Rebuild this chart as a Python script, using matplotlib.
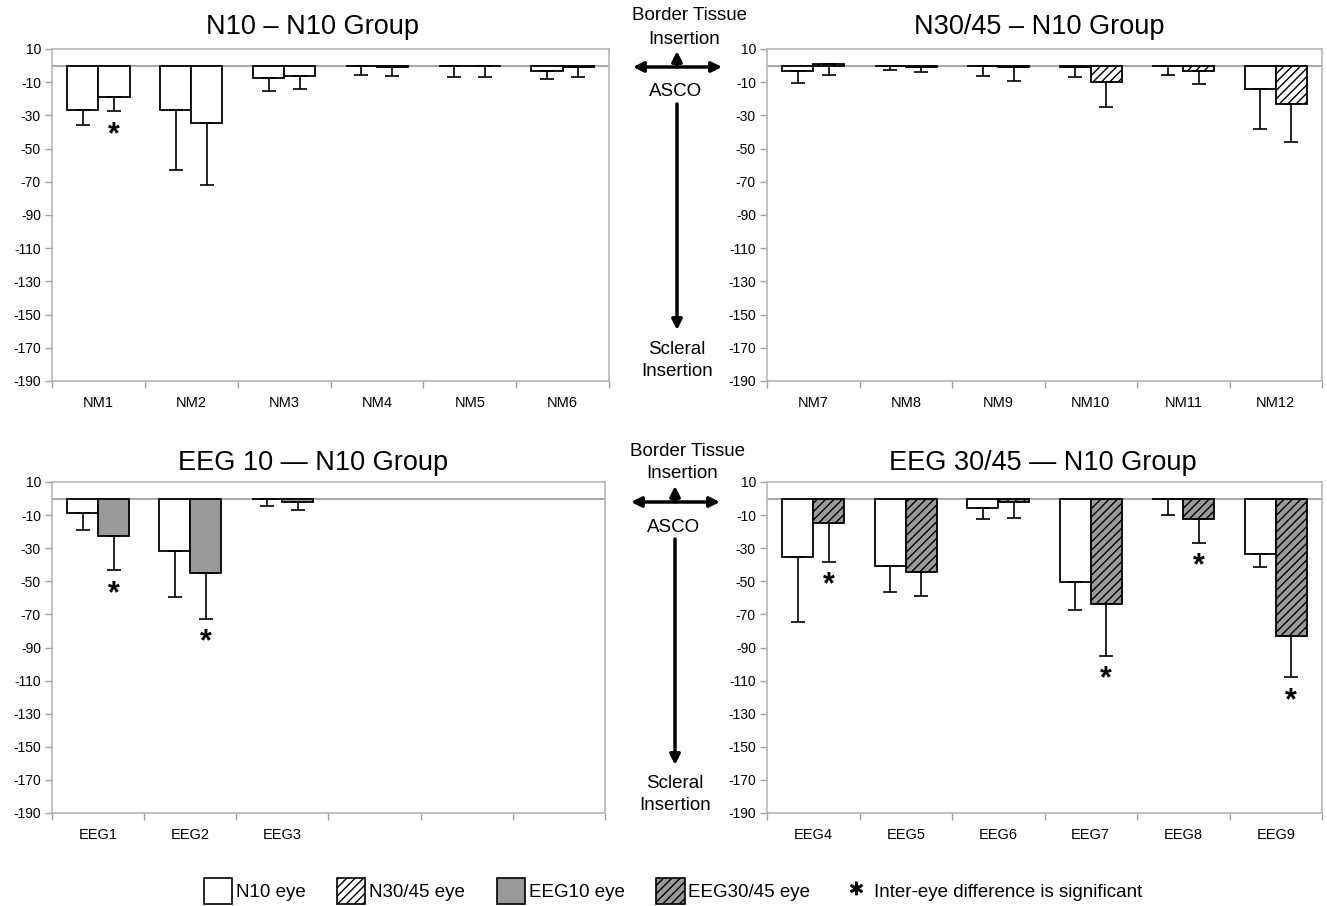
import matplotlib
matplotlib.use("Agg")
import matplotlib.pyplot as plt
from matplotlib.patches import Patch, FancyArrowPatch
from matplotlib.lines import Line2D
import numpy as np

plt.rcParams['font.family'] = ['Liberation Sans', 'DejaVu Sans']
plt.rcParams['hatch.linewidth'] = 1.0

# ---------------- data ----------------
nm_a_labels = ["NM1", "NM2", "NM3", "NM4", "NM5", "NM6"]
n10grp_eye1 = [-27, -27, -7.2, -0.3, -0.5, -3]
n10grp_eye1_sd = [9, 36, 8.2, 5.1, 6.5, 5]
n10grp_eye2 = [-19.2, -34.4, -6, -0.8, -0.5, -1]
n10grp_eye2_sd = [8.4, 37.8, 7.8, 5.4, 6.5, 6]
n10grp_sig = [True, False, False, False, False, False]

nm_b_labels = ["NM7", "NM8", "NM9", "NM10", "NM11", "NM12"]
n30grp_n10 = [-3.3, -0.2, -0.2, -0.7, -0.2, -14.2]
n30grp_n10_sd = [6.9, 2.5, 6.3, 6.3, 5.4, 23.7]
n30grp_n30 = [0.7, -1, -0.7, -9.6, -3.3, -22.9]
n30grp_n30_sd = [6.3, 3, 8.7, 15.6, 7.7, 22.9]
n30grp_sig = [False, False, False, False, False, False]

eeg_a_labels = ["EEG1", "EEG2", "EEG3", "", "", ""]
eeg10grp_n10 = [-8.6, -31.6, -0.3]
eeg10grp_n10_sd = [10.6, 28, 4.2]
eeg10grp_eeg10 = [-22.4, -44.9, -2.2]
eeg10grp_eeg10_sd = [20.9, 27.8, 4.7]
eeg10grp_sig = [True, True, False]

eeg_b_labels = ["EEG4", "EEG5", "EEG6", "EEG7", "EEG8", "EEG9"]
eeg30grp_n10 = [-35.2, -40.6, -5.5, -50.7, -0.3, -33.7]
eeg30grp_n10_sd = [39.1, 16, 6.6, 16.8, 9.6, 7.5]
eeg30grp_eeg30 = [-14.5, -44.6, -2, -63.6, -12.1, -83]
eeg30grp_eeg30_sd = [23.7, 14.2, 9.5, 31.4, 14.8, 25]
eeg30grp_sig = [True, False, False, True, True, True]

yticks = [10, -10, -30, -50, -70, -90, -110, -130, -150, -170, -190]

titles = ["N10 \u2013 N10 Group", "N30/45 \u2013 N10 Group",
          "EEG 10 \u2014 N10 Group", "EEG 30/45 \u2014 N10 Group"]

# ---------------- styles ----------------
W, H = 1327, 906
style_n10 = dict(facecolor='white', edgecolor='black', hatch=None)
style_n30 = dict(facecolor='white', edgecolor='black', hatch='////')
style_eeg10 = dict(facecolor='#999999', edgecolor='black', hatch=None)
style_eeg30 = dict(facecolor='#9a9a9a', edgecolor='black', hatch='////')

fig = plt.figure(figsize=(W / 100, H / 100), dpi=100)


def px_axes(l, t, r, b):
    return fig.add_axes([l / W, 1 - b / H, (r - l) / W, (b - t) / H])


def panel(ax, labels, v1, s1, v2, s2, sig, st1, st2):
    n = len(v1)
    x = np.arange(n)
    bw = 0.335
    ax.axhline(0, color='#a0a0a0', lw=1.3, zorder=1)
    ax.bar(x - bw / 2, v1, width=bw, linewidth=1.3, zorder=2, **st1)
    ax.bar(x + bw / 2, v2, width=bw, linewidth=1.3, zorder=2, **st2)
    ax.errorbar(x - bw / 2, v1, yerr=[s1, np.zeros(n)], fmt='none',
                ecolor='black', elinewidth=1.2, capsize=5, capthick=1.2, zorder=3)
    ax.errorbar(x + bw / 2, v2, yerr=[s2, np.zeros(n)], fmt='none',
                ecolor='black', elinewidth=1.2, capsize=5, capthick=1.2, zorder=3)
    for i in range(n):
        if sig[i]:
            ax.annotate('*', xy=(x[i] + bw / 2, v2[i] - s2[i]), xytext=(0, -17),
                        textcoords='offset points', ha='center', va='center',
                        fontsize=22, fontweight='bold')
    ax.set_xlim(-0.5, 5.5)
    ax.set_ylim(-190, 10)
    ax.set_yticks(yticks)
    ax.set_yticklabels([str(t) for t in yticks], fontsize=10)
    ax.set_xticks(np.arange(6))
    ax.set_xticklabels(labels, fontsize=10.5)
    ax.set_xticks(np.arange(-0.5, 6, 1), minor=True)
    ax.tick_params(axis='x', which='major', length=0, pad=11)
    ax.tick_params(axis='x', which='minor', length=5, color='#a0a0a0', width=1)
    ax.tick_params(axis='y', length=5, color='#a0a0a0', width=1, pad=3)
    for sp in ax.spines.values():
        sp.set_color('#b0b0b0')
        sp.set_linewidth(1.1)


ax1 = px_axes(52, 49, 609, 381)
ax2 = px_axes(767, 49, 1322, 381)
ax3 = px_axes(52, 482, 605, 813)
ax4 = px_axes(767, 482, 1322, 813)

panel(ax1, nm_a_labels, n10grp_eye1, n10grp_eye1_sd, n10grp_eye2, n10grp_eye2_sd,
      n10grp_sig, style_n10, style_n10)
panel(ax2, nm_b_labels, n30grp_n10, n30grp_n10_sd, n30grp_n30, n30grp_n30_sd,
      n30grp_sig, style_n10, style_n30)
panel(ax3, eeg_a_labels, eeg10grp_n10, eeg10grp_n10_sd, eeg10grp_eeg10, eeg10grp_eeg10_sd,
      eeg10grp_sig, style_n10, style_eeg10)
panel(ax4, eeg_b_labels, eeg30grp_n10, eeg30grp_n10_sd, eeg30grp_eeg30, eeg30grp_eeg30_sd,
      eeg30grp_sig, style_n10, style_eeg30)

# titles
for (tx, ty), t in zip([(312, 27), (1039, 27), (313, 463), (1043, 463)], titles):
    fig.text(tx / W, 1 - ty / H, t, ha='center', va='center', fontsize=19.5)


# middle annotations
def middle(cx, dy):
    def T(x, y, s):
        fig.text(x / W, 1 - (y + dy) / H, s, ha='center', va='center', fontsize=13.5)

    def A(x0, y0, x1, y1, style):
        fig.add_artist(FancyArrowPatch((x0 / W, 1 - (y0 + dy) / H),
                                       (x1 / W, 1 - (y1 + dy) / H),
                                       arrowstyle=style, transform=fig.transFigure,
                                       color='black', lw=2.5, mutation_scale=15,
                                       shrinkA=0, shrinkB=0))
    T(cx + 14, 16, "Border Tissue")
    T(cx + 8, 39, "Insertion")
    A(cx - 43, 67, cx + 46, 67, '<|-|>')
    A(cx + 1, 67, cx + 1, 51, '-|>')
    T(cx, 92, "ASCO")
    A(cx + 1, 104, cx + 1, 330, '-|>')
    T(cx + 1, 349, "Scleral")
    T(cx + 1, 371, "Insertion")


middle(676, 0)
middle(674, 435)

# legend
handles = [Patch(facecolor='white', edgecolor='black', linewidth=1.2),
           Patch(facecolor='white', edgecolor='black', hatch='////', linewidth=1.2),
           Patch(facecolor='#999999', edgecolor='black', linewidth=1.2),
           Patch(facecolor='#9a9a9a', edgecolor='black', hatch='////', linewidth=1.2),
           Line2D([], [], linestyle='none', marker=r'$\ast$', markersize=9,
                  color='black', markeredgewidth=1.0)]
leg_labels = ["N10 eye", "N30/45 eye", "EEG10 eye", "EEG30/45 eye",
              "Inter-eye difference is significant"]
fig.legend(handles, leg_labels, loc='center', bbox_to_anchor=(673 / W, 1 - 891 / H),
           ncol=5, frameon=False, fontsize=13.5, handlelength=1.5, handleheight=1.75,
           handletextpad=0.2, columnspacing=1.7, borderpad=0)

fig.savefig("out.png", dpi=100)
